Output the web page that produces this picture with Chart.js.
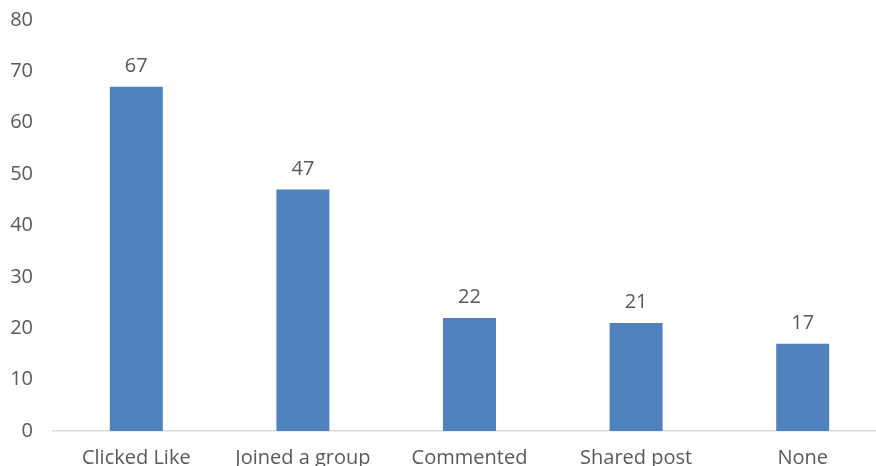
<!DOCTYPE html>
<html lang="en">
<head>
<meta charset="UTF-8">
<title>Chart</title>
<script src="https://cdn.jsdelivr.net/npm/chart.js"></script>
<style>
    html, body { margin: 0; padding: 0; overflow: hidden; background: #fff; }
    .wrap { width: 890px; height: 480px; }
</style>
</head>
<body>
<div class="wrap"><canvas id="grafico"></canvas></div>
<script>
    const categorias = ['Clicked Like', 'Joined a group', 'Commented', 'Shared post', 'None'];
    const valores = [67, 47, 22, 21, 17];
    const yTicks = [0, 10, 20, 30, 40, 50, 60, 70, 80];

    const corTexto = '#595959';
    const fonte = { family: '"Open Sans", sans-serif', size: 20 };

    // draw value labels above each bar
    const rotulos = {
        id: 'rotulos',
        afterDatasetsDraw(chart) {
            const ctx = chart.ctx;
            const meta = chart.getDatasetMeta(0);
            ctx.save();
            ctx.fillStyle = corTexto;
            ctx.font = '20px "Open Sans", sans-serif';
            ctx.textAlign = 'center';
            ctx.textBaseline = 'alphabetic';
            meta.data.forEach((bar, i) => {
                ctx.fillText(valores[i], bar.x, bar.y - 15);
            });
            ctx.restore();
        }
    };

    new Chart(document.getElementById('grafico'), {
        type: 'bar',
        data: {
            labels: categorias,
            datasets: [{
                data: valores,
                backgroundColor: '#4F81BD',
                barPercentage: 1,
                categoryPercentage: 0.318
            }]
        },
        options: {
            responsive: true,
            maintainAspectRatio: false,
            animation: false,
            layout: { padding: { top: 20, right: 4, left: 0, bottom: 0 } },
            plugins: { legend: { display: false }, tooltip: { enabled: false } },
            scales: {
                x: {
                    grid: { display: false, drawTicks: false },
                    border: { display: true, color: '#D9D9D9', width: 1.5 },
                    ticks: { color: corTexto, font: fonte, padding: 15, maxRotation: 0 },
                    afterFit(scale) { scale.height = 49; }
                },
                y: {
                    min: 0,
                    max: 80,
                    afterBuildTicks(scale) { scale.ticks = yTicks.map(v => ({ value: v })); },
                    grid: { display: false, drawTicks: false },
                    border: { display: false },
                    ticks: { color: corTexto, font: fonte, padding: 20 },
                    afterFit(scale) {
                        scale.width = 53;
                        scale.paddingTop = 0;
                        scale.paddingBottom = 0;
                    }
                }
            }
        },
        plugins: [rotulos]
    });
</script>
</body>
</html>
